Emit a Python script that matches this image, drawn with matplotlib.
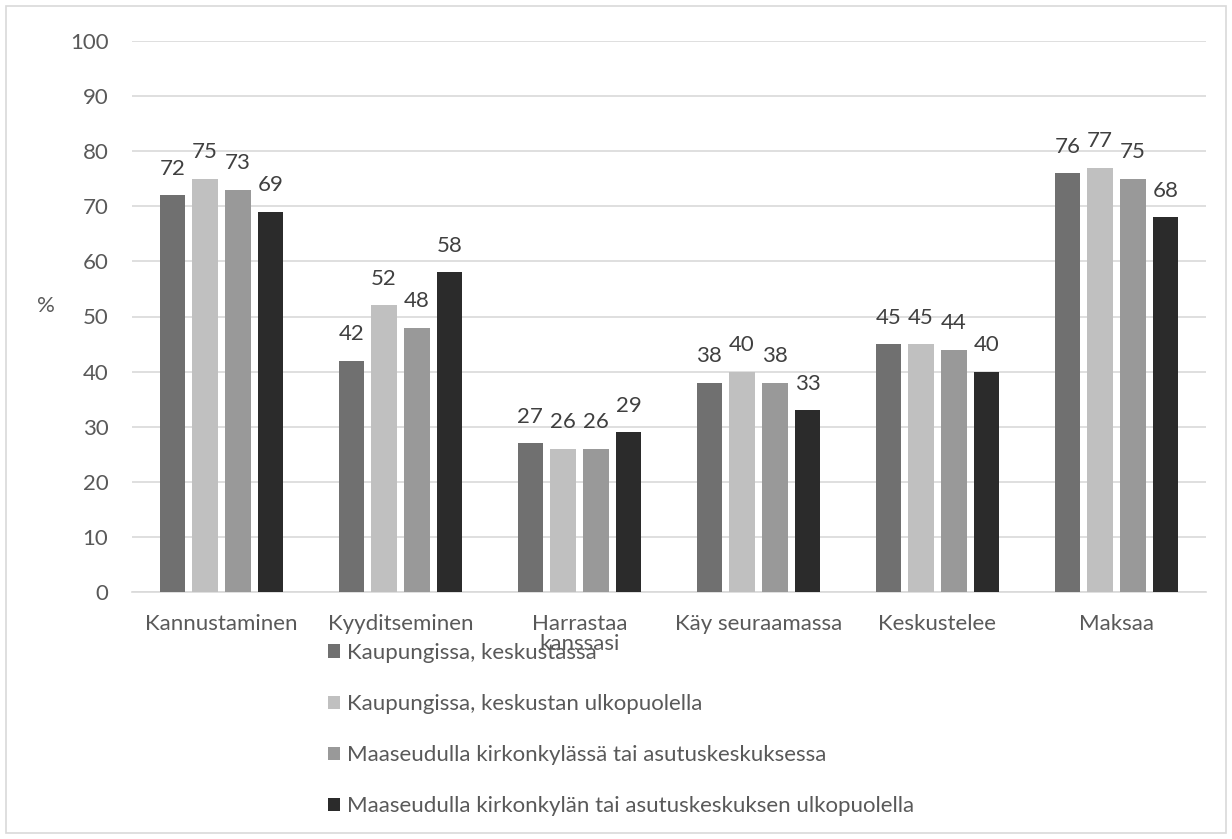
import numpy as np
import matplotlib
matplotlib.use("Agg")
import matplotlib.pyplot as plt
from matplotlib.patches import Rectangle

plt.rcParams['font.family'] = ['Lato', 'DejaVu Sans']

categories = ["Kannustaminen", "Kyyditseminen", "Harrastaa\nkanssasi",
              "Käy seuraamassa", "Keskustelee", "Maksaa"]
series_names = [
    "Kaupungissa, keskustassa",
    "Kaupungissa, keskustan ulkopuolella",
    "Maaseudulla kirkonkylässä tai asutuskeskuksessa",
    "Maaseudulla kirkonkylän tai asutuskeskuksen ulkopuolella",
]
kaupunki_keskusta = [72, 42, 27, 38, 45, 76]
kaupunki_ulkopuoli = [75, 52, 26, 40, 45, 77]
maaseutu_kirkonkyla = [73, 48, 26, 38, 44, 75]
maaseutu_ulkopuoli = [69, 58, 29, 33, 40, 68]
series_values = [kaupunki_keskusta, kaupunki_ulkopuoli,
                 maaseutu_kirkonkyla, maaseutu_ulkopuoli]
colors = ["#707070", "#c0c0c0", "#999999", "#2b2b2b"]
y_ticks = list(range(0, 101, 10))

W, H = 1232, 839
fig = plt.figure(figsize=(W / 100, H / 100), dpi=100)
fig.patch.set_facecolor("white")

# outer chart border
fig.add_artist(Rectangle((6 / W, 6 / H), 1220 / W, 827 / H, transform=fig.transFigure,
                         fill=False, edgecolor="#d9d9d9", linewidth=1.2))

ax = fig.add_axes([132 / W, 1 - 592 / H, (1206 - 132) / W, (592 - 41) / H])
x = np.arange(len(categories))
step = 0.183
width = 0.142
text_color = "#595959"
fs = 16

for i, (vals, col, name) in enumerate(zip(series_values, colors, series_names)):
    pos = x + (i - 1.5) * step
    bars = ax.bar(pos, vals, width=width, color=col, label=name, zorder=3)
    for b, v in zip(bars, vals):
        ax.annotate(f"{v}", (b.get_x() + b.get_width() / 2, v),
                    xytext=(0, 19), textcoords="offset points",
                    ha="center", va="center", fontsize=fs, color="#404040")

ax.set_xlim(-0.5, len(categories) - 0.5)
ax.set_ylim(0, 100)
ax.set_yticks(y_ticks)
ax.yaxis.grid(True, color="#d9d9d9", linewidth=1.2, zorder=0)
ax.set_axisbelow(True)
for s in ["top", "right", "left"]:
    ax.spines[s].set_visible(False)
ax.spines["bottom"].set_color("#d9d9d9")
ax.spines["bottom"].set_linewidth(1.2)
ax.tick_params(axis="both", length=0, labelsize=fs, colors=text_color)
ax.tick_params(axis="y", pad=17)
ax.tick_params(axis="x", pad=16)
ax.set_xticks(x)
ax.set_xticklabels(categories, linespacing=1.0)
ax.set_ylabel("%", rotation=0, fontsize=fs, color=text_color)
ax.yaxis.set_label_coords(-0.08, 0.5)

leg = fig.legend(loc="upper left", bbox_to_anchor=(328 / W, 1 - 643 / H),
                 frameon=False, fontsize=fs, labelspacing=1.4,
                 handlelength=0.55, handleheight=0.55, handletextpad=0.3,
                 borderaxespad=0, borderpad=0)
for t in leg.get_texts():
    t.set_color(text_color)

fig.savefig("out.png", dpi=100, facecolor="white")
